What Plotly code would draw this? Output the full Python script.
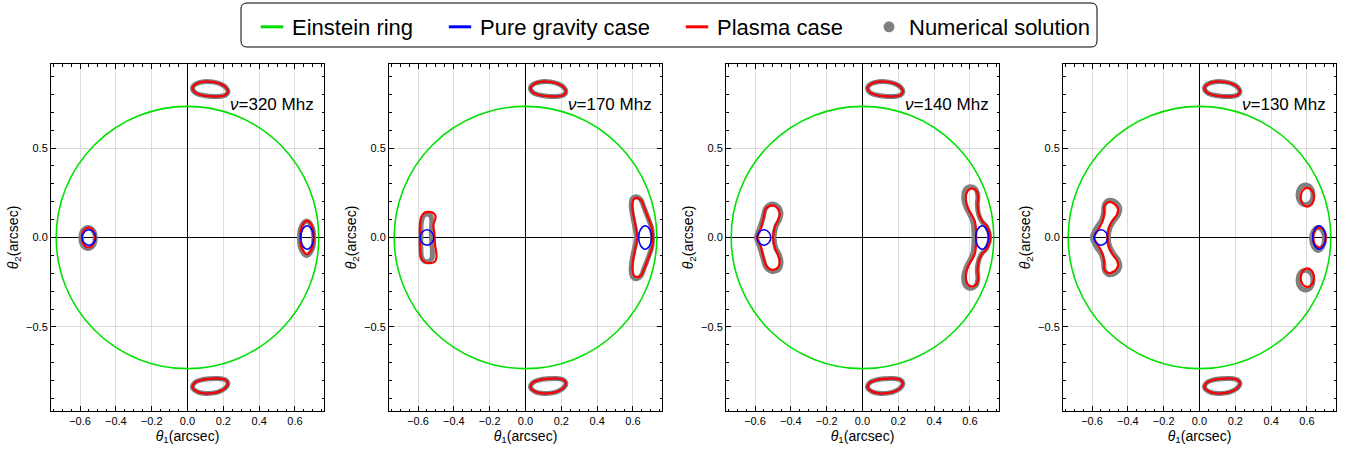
import plotly.graph_objects as go

# ---------------- data ----------------
frequencies_mhz = [320, 170, 140, 130]
einstein_radius = 0.733
legend_names = ["Einstein ring", "Pure gravity case", "Plasma case", "Numerical solution"]

# upper / lower images (same in every panel)
upper_img_x = [0.028, 0.050, 0.090, 0.140, 0.185, 0.215, 0.226, 0.212, 0.170, 0.120, 0.075, 0.040]
upper_img_y = [0.838, 0.860, 0.871, 0.870, 0.858, 0.838, 0.815, 0.796, 0.788, 0.790, 0.797, 0.812]
lower_img_x = [0.028, 0.050, 0.090, 0.140, 0.185, 0.215, 0.226, 0.212, 0.170, 0.120, 0.075, 0.040]
lower_img_y = [-0.838, -0.860, -0.871, -0.870, -0.858, -0.838, -0.815, -0.796, -0.788, -0.790, -0.797, -0.812]

# pure gravity case, left / right images (same in every panel)
grav_left_x = [-0.512, -0.523, -0.550, -0.577, -0.588, -0.577, -0.550, -0.523]
grav_left_y = [0.000, 0.030, 0.043, 0.030, 0.000, -0.030, -0.043, -0.030]
grav_right_x = [0.704, 0.693, 0.668, 0.643, 0.632, 0.643, 0.668, 0.693]
grav_right_y = [0.000, 0.046, 0.065, 0.046, 0.000, -0.046, -0.065, -0.046]

# ---- 320 MHz ----
f320_left_red_x = [-0.516, -0.527, -0.553, -0.579, -0.590, -0.579, -0.553, -0.527]
f320_left_red_y = [0.000, 0.040, 0.056, 0.040, 0.000, -0.040, -0.056, -0.040]
f320_left_num_x = [-0.515, -0.527, -0.555, -0.583, -0.595, -0.583, -0.555, -0.527]
f320_left_num_y = [-0.003, 0.040, 0.056, 0.040, -0.003, -0.046, -0.062, -0.046]
f320_right_red_x = [0.705, 0.694, 0.667, 0.640, 0.629, 0.640, 0.667, 0.694]
f320_right_red_y = [0.000, 0.066, 0.093, 0.066, 0.000, -0.066, -0.093, -0.066]
f320_right_num_x = [0.705, 0.693, 0.665, 0.637, 0.625, 0.637, 0.665, 0.693]
f320_right_num_y = [-0.004, 0.064, 0.092, 0.064, -0.004, -0.072, -0.100, -0.072]

# ---- 170 MHz ----
f170_left_red_x = [-0.589, -0.588, -0.580, -0.562, -0.538, -0.512, -0.502, -0.514, -0.508, -0.505, -0.498, -0.498,
                   -0.508, -0.530, -0.557, -0.578, -0.587, -0.589]
f170_left_red_y = [0.000, 0.070, 0.118, 0.140, 0.143, 0.135, 0.112, 0.070, 0.020, -0.040, -0.085, -0.118,
                   -0.137, -0.143, -0.140, -0.122, -0.085, -0.040]
f170_left_num_x = [-0.584, -0.582, -0.570, -0.548, -0.530, -0.523, -0.526, -0.524, -0.520, -0.523, -0.540, -0.565,
                   -0.580, -0.584]
f170_left_num_y = [0.000, 0.080, 0.120, 0.132, 0.122, 0.090, 0.040, -0.020, -0.080, -0.118, -0.133, -0.132,
                   -0.110, -0.060]
f170_right_red_x = [0.622, 0.645, 0.662, 0.685, 0.705, 0.712, 0.707, 0.688, 0.665, 0.648, 0.625, 0.605,
                    0.597, 0.600, 0.612, 0.624, 0.614, 0.601, 0.596, 0.603]
f170_right_red_y = [0.222, 0.210, 0.170, 0.110, 0.055, 0.000, -0.055, -0.110, -0.170, -0.208, -0.222, -0.212,
                    -0.180, -0.130, -0.065, 0.000, 0.065, 0.130, 0.180, 0.212]
f170_right_num_x = [0.617, 0.642, 0.660, 0.683, 0.703, 0.709, 0.704, 0.685, 0.662, 0.645, 0.620, 0.598,
                    0.590, 0.594, 0.607, 0.619, 0.609, 0.596, 0.590, 0.597]
f170_right_num_y = [0.228, 0.214, 0.172, 0.112, 0.056, 0.000, -0.056, -0.112, -0.172, -0.214, -0.230, -0.220,
                    -0.185, -0.132, -0.066, 0.000, 0.066, 0.132, 0.185, 0.218]

# ---- 140 MHz ----
f140_left_red_x = [-0.503, -0.475, -0.462, -0.470, -0.488, -0.499, -0.488, -0.470, -0.462, -0.472, -0.505,
                   -0.535, -0.552, -0.568, -0.588, -0.568, -0.552, -0.540]
f140_left_red_y = [0.180, 0.165, 0.135, 0.100, 0.062, 0.000, -0.060, -0.100, -0.140, -0.168, -0.181,
                   -0.162, -0.115, -0.050, 0.000, 0.050, 0.108, 0.160]
f140_left_num_x = [-0.505, -0.470, -0.455, -0.463, -0.483, -0.494, -0.483, -0.463, -0.455, -0.468, -0.505,
                   -0.538, -0.556, -0.575, -0.592, -0.575, -0.556, -0.540]
f140_left_num_y = [0.187, 0.172, 0.138, 0.100, 0.062, 0.000, -0.062, -0.100, -0.142, -0.178, -0.190,
                   -0.168, -0.115, -0.050, 0.000, 0.050, 0.108, 0.165]
f140_right_red_x = [0.610, 0.636, 0.645, 0.642, 0.650, 0.668, 0.697, 0.714, 0.697, 0.668, 0.650, 0.642, 0.645,
                    0.636, 0.610, 0.585, 0.577, 0.588, 0.612, 0.628, 0.634, 0.634, 0.628, 0.612, 0.588, 0.577,
                    0.585]
f140_right_red_y = [0.274, 0.262, 0.228, 0.180, 0.128, 0.092, 0.060, 0.000, -0.060, -0.092, -0.128, -0.180,
                    -0.228, -0.262, -0.274, -0.258, -0.215, -0.165, -0.122, -0.088, -0.035, 0.035, 0.088,
                    0.122, 0.165, 0.215, 0.258]
f140_right_num_x = [0.601, 0.631, 0.644, 0.641, 0.648, 0.665, 0.694, 0.710, 0.694, 0.665, 0.648, 0.641, 0.644,
                    0.631, 0.601, 0.573, 0.565, 0.578, 0.602, 0.617, 0.622, 0.622, 0.617, 0.602, 0.578, 0.565,
                    0.573]
f140_right_num_y = [0.284, 0.272, 0.234, 0.185, 0.130, 0.092, 0.058, 0.000, -0.058, -0.092, -0.130, -0.185,
                    -0.234, -0.272, -0.284, -0.266, -0.220, -0.168, -0.122, -0.085, -0.035, 0.035, 0.085,
                    0.122, 0.168, 0.220, 0.266]

# ---- 130 MHz ----
f130_left_red_x = [-0.510, -0.478, -0.456, -0.460, -0.485, -0.505, -0.514, -0.505, -0.485, -0.460, -0.456,
                   -0.478, -0.510, -0.532, -0.533, -0.540, -0.562, -0.588, -0.562, -0.540, -0.533, -0.532]
f130_left_red_y = [0.198, 0.190, 0.163, 0.128, 0.095, 0.055, 0.000, -0.055, -0.095, -0.128, -0.163,
                   -0.190, -0.198, -0.178, -0.135, -0.095, -0.050, 0.000, 0.050, 0.095, 0.135, 0.178]
f130_left_num_x = [-0.505, -0.468, -0.446, -0.452, -0.478, -0.500, -0.509, -0.500, -0.478, -0.452, -0.446,
                   -0.468, -0.505, -0.530, -0.536, -0.548, -0.575, -0.598, -0.575, -0.548, -0.536, -0.530]
f130_left_num_y = [0.208, 0.198, 0.168, 0.128, 0.092, 0.052, 0.000, -0.052, -0.092, -0.128, -0.168,
                   -0.198, -0.208, -0.185, -0.135, -0.095, -0.055, 0.000, 0.055, 0.095, 0.135, 0.185]
f130_upper_red_x = [0.639, 0.628, 0.602, 0.576, 0.565, 0.576, 0.602, 0.628]
f130_upper_red_y = [0.225, 0.262, 0.277, 0.262, 0.225, 0.188, 0.173, 0.188]
f130_upper_num_x = [0.634, 0.622, 0.592, 0.562, 0.550, 0.562, 0.592, 0.622]
f130_upper_num_y = [0.238, 0.277, 0.293, 0.277, 0.238, 0.199, 0.183, 0.199]
f130_mid_red_x = [0.705, 0.695, 0.670, 0.645, 0.635, 0.645, 0.670, 0.695]
f130_mid_red_y = [0.000, 0.040, 0.056, 0.040, 0.000, -0.040, -0.056, -0.040]
f130_mid_num_x = [0.698, 0.687, 0.662, 0.637, 0.626, 0.637, 0.662, 0.687]
f130_mid_num_y = [-0.008, 0.037, 0.056, 0.037, -0.008, -0.053, -0.072, -0.053]
f130_lower_red_x = [0.639, 0.628, 0.602, 0.576, 0.565, 0.576, 0.602, 0.628]
f130_lower_red_y = [-0.225, -0.262, -0.277, -0.262, -0.225, -0.188, -0.173, -0.188]
f130_lower_num_x = [0.634, 0.622, 0.592, 0.562, 0.550, 0.562, 0.592, 0.622]
f130_lower_num_y = [-0.238, -0.277, -0.293, -0.277, -0.238, -0.199, -0.183, -0.199]

# ---------------- styling ----------------
GREEN = "#00e000"
BLUE = "#0000ff"
RED = "#ff0000"
GREY = "#808080"
FONT = "Liberation Sans, Arial, sans-serif"

W, H = 1348, 451
panel_left_px = [51, 389, 726, 1063]
panel_w_px = 273
panel_top_px, panel_bot_px = 64, 411
legend_left_px = [252, 440, 677, 869]     # left edge of each legend entry
legend_box_px = (241, 3, 1097, 47)        # x0, y0, x1, y1 of the framing box
legend_mid_px = 27

panels = [
    dict(num=[(f320_left_num_x, f320_left_num_y), (f320_right_num_x, f320_right_num_y)],
         red=[(f320_left_red_x, f320_left_red_y), (f320_right_red_x, f320_right_red_y)]),
    dict(num=[(f170_left_num_x, f170_left_num_y), (f170_right_num_x, f170_right_num_y)],
         red=[(f170_left_red_x, f170_left_red_y), (f170_right_red_x, f170_right_red_y)]),
    dict(num=[(f140_left_num_x, f140_left_num_y), (f140_right_num_x, f140_right_num_y)],
         red=[(f140_left_red_x, f140_left_red_y), (f140_right_red_x, f140_right_red_y)]),
    dict(num=[(f130_left_num_x, f130_left_num_y), (f130_upper_num_x, f130_upper_num_y),
              (f130_mid_num_x, f130_mid_num_y), (f130_lower_num_x, f130_lower_num_y)],
         red=[(f130_left_red_x, f130_left_red_y), (f130_upper_red_x, f130_upper_red_y),
              (f130_mid_red_x, f130_mid_red_y), (f130_lower_red_x, f130_lower_red_y)]),
]


def closed(seq):
    return list(seq) + [seq[0]]


fig = go.Figure()

# legend-only entries, each in its own legend so the spacing can follow the reference
legend_ids = ["legend", "legend2", "legend3", "legend4"]
for name, color, lid in zip(legend_names[:3], [GREEN, BLUE, RED], legend_ids[:3]):
    fig.add_trace(go.Scatter(x=[None], y=[None], mode="markers", name=name, legend=lid,
                             marker=dict(symbol="line-ew", size=16, color=color,
                                         line=dict(color=color, width=3))))
fig.add_trace(go.Scatter(x=[None], y=[None], mode="markers", marker=dict(color=GREY, size=11),
                         name=legend_names[3], legend=legend_ids[3]))

shapes, annotations = [], []
layout_axes = {}

for k, (freq, p) in enumerate(zip(frequencies_mhz, panels), start=1):
    sfx = "" if k == 1 else str(k)
    xa, ya = "x" + sfx, "y" + sfx
    common = dict(xaxis=xa, yaxis=ya, showlegend=False, hoverinfo="skip")

    def line_trace(xs, ys, color, width):
        fig.add_trace(go.Scatter(x=closed(xs), y=closed(ys), mode="lines",
                                 line=dict(color=color, width=width, shape="spline", smoothing=1.0),
                                 **common))

    # numerical solution (grey band)
    for xs, ys in p["num"] + [(upper_img_x, upper_img_y), (lower_img_x, lower_img_y)]:
        line_trace(xs, ys, GREY, 5)
    # pure gravity under red for upper/lower images
    for xs, ys in [(upper_img_x, upper_img_y), (lower_img_x, lower_img_y)]:
        line_trace(xs, ys, BLUE, 1.5)
    # plasma case
    for xs, ys in p["red"] + [(upper_img_x, upper_img_y), (lower_img_x, lower_img_y)]:
        line_trace(xs, ys, RED, 2.2)
    # pure gravity case left / right
    for xs, ys in [(grav_left_x, grav_left_y), (grav_right_x, grav_right_y)]:
        line_trace(xs, ys, BLUE, 1.5)

    # Einstein ring
    shapes.append(dict(type="circle", xref=xa, yref=ya, x0=-einstein_radius, x1=einstein_radius,
                       y0=-einstein_radius, y1=einstein_radius, line=dict(color=GREEN, width=1.6),
                       layer="between"))

    annotations.append(dict(text=f"<i>ν</i>={freq} Mhz", xref=f"{xa} domain", yref=ya,
                            x=1 - 8 / panel_w_px, y=0.742, xanchor="right", yanchor="middle",
                            showarrow=False, font=dict(size=17, color="black", family=FONT)))

    L = panel_left_px[k - 1]
    axis_common = dict(showline=True, mirror="allticks", linecolor="black", linewidth=1,
                       ticks="inside", ticklen=5, tickwidth=1, tickcolor="black",
                       showgrid=True, gridcolor="#dcdcdc", gridwidth=0.8,
                       zeroline=True, zerolinecolor="black", zerolinewidth=1.2,
                       tickformat=".1f", tickfont=dict(size=11, color="black", family=FONT),
                       fixedrange=True)
    layout_axes["xaxis" + sfx] = dict(
        domain=[L / W, (L + panel_w_px) / W], anchor=ya, range=[-0.762, 0.762],
        tick0=0, dtick=0.2,
        minor=dict(ticks="inside", ticklen=2.5, tickcolor="black", dtick=0.05, tick0=0, showgrid=False),
        title=dict(text="<i>θ</i><sub>1</sub>(arcsec)", font=dict(size=14, color="black", family=FONT),
                   standoff=4),
        **axis_common)
    layout_axes["yaxis" + sfx] = dict(
        domain=[1 - panel_bot_px / H, 1 - panel_top_px / H], anchor=xa, range=[-0.97, 0.97],
        tick0=0, dtick=0.5,
        minor=dict(ticks="inside", ticklen=2.5, tickcolor="black", dtick=0.1, tick0=0, showgrid=False),
        title=dict(text="<i>θ</i><sub>2</sub>(arcsec)", font=dict(size=14, color="black", family=FONT),
                   standoff=4),
        **axis_common)

# rounded legend frame (paper coordinates)
bx0, by0, bx1, by1 = legend_box_px
rad = 6
def px(xp):
    return xp / W
def py(yp):
    return 1 - yp / H
frame_path = (f"M{px(bx0 + rad)},{py(by0)} L{px(bx1 - rad)},{py(by0)} "
              f"Q{px(bx1)},{py(by0)} {px(bx1)},{py(by0 + rad)} L{px(bx1)},{py(by1 - rad)} "
              f"Q{px(bx1)},{py(by1)} {px(bx1 - rad)},{py(by1)} L{px(bx0 + rad)},{py(by1)} "
              f"Q{px(bx0)},{py(by1)} {px(bx0)},{py(by1 - rad)} L{px(bx0)},{py(by0 + rad)} "
              f"Q{px(bx0)},{py(by0)} {px(bx0 + rad)},{py(by0)} Z")
shapes.append(dict(type="path", xref="paper", yref="paper", path=frame_path,
                   line=dict(color="black", width=1), fillcolor="white", layer="below"))

legend_layouts = {}
for lid, lx in zip(legend_ids, legend_left_px):
    legend_layouts[lid] = dict(orientation="h", x=lx / W, xanchor="left", y=py(legend_mid_px),
                               yanchor="middle", borderwidth=0, bgcolor="rgba(0,0,0,0)",
                               font=dict(size=22, color="black", family=FONT))

fig.update_layout(
    width=W, height=H, margin=dict(l=0, r=0, t=0, b=0),
    paper_bgcolor="white", plot_bgcolor="white",
    font=dict(family=FONT, color="black"),
    shapes=shapes, annotations=annotations,
    **legend_layouts,
    **layout_axes,
)

fig.write_html("out.html")
